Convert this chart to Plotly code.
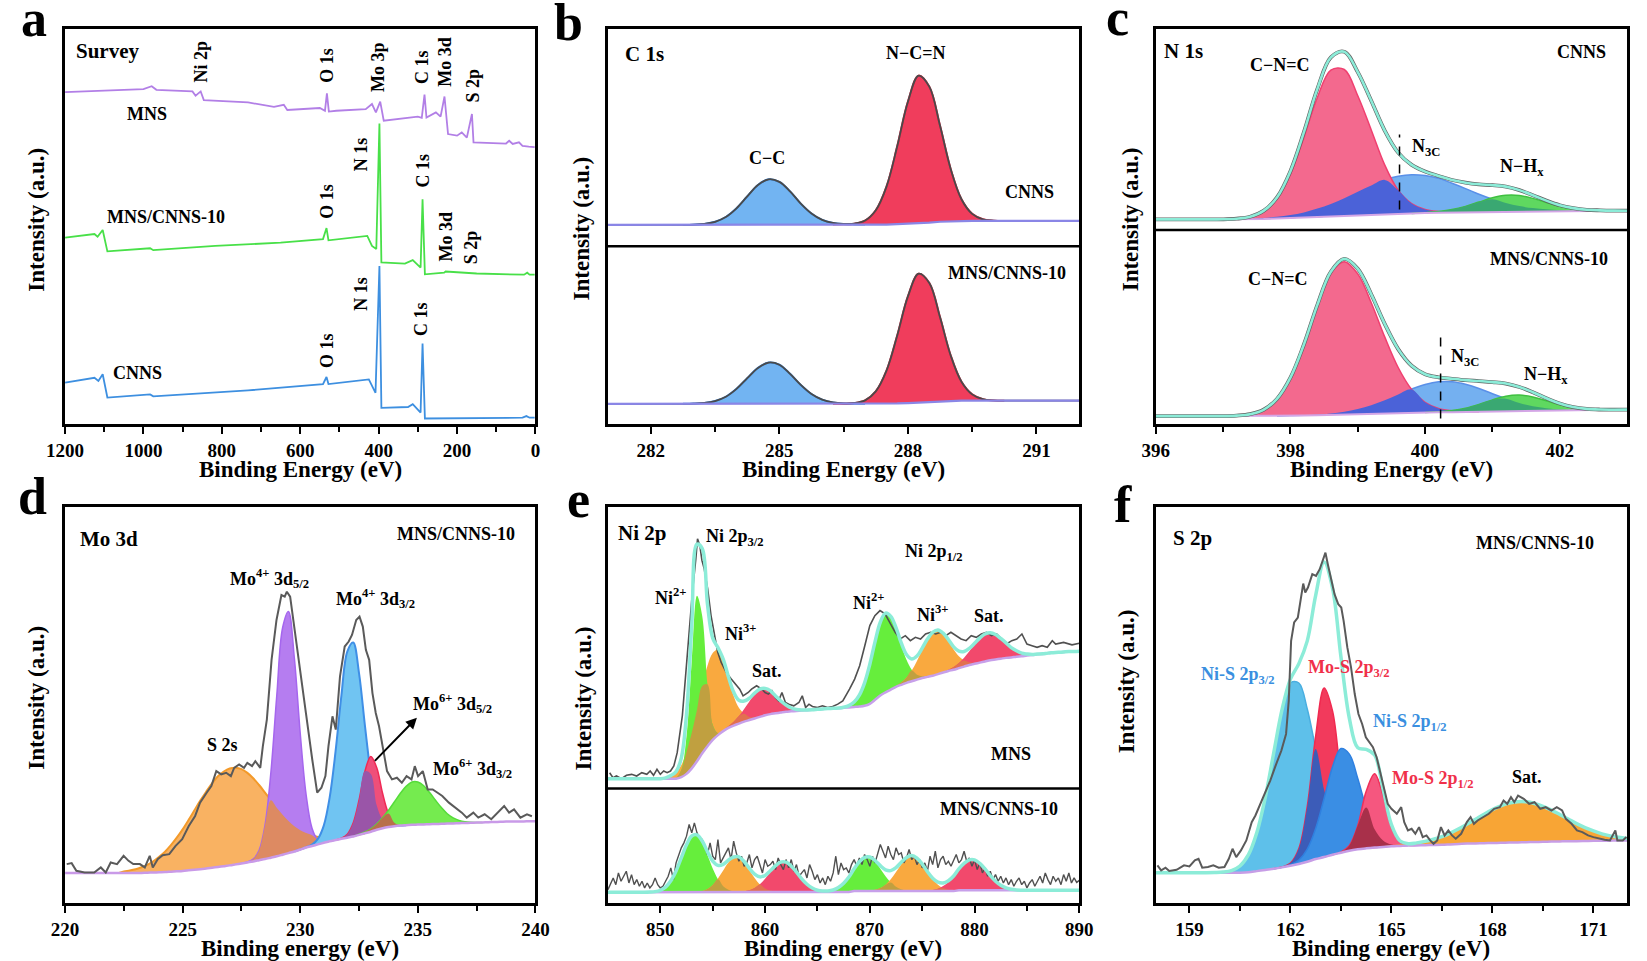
import numpy as np
import plotly.graph_objects as go

W, H = 1647, 961
FONT = "Liberation Serif"


def pad(start, vals, n):
    # peak heights above background, placed on the panel energy grid
    return [0.0] * start + list(vals) + [0.0] * (n - start - len(vals))


# ---------------- (a) survey ----------------
a_mns_x = [1200, 1000, 979, 967, 875, 867, 854, 846, 733, 712, 667, 642, 633, 550, 537, 532, 527, 508, 433, 417,
           407, 396, 387, 300, 290, 283, 278, 254, 242, 232, 223, 200, 188, 175, 162, 158, 75, 67, 58, 42, 33, 17, 2]
a_mns_y = [84.0, 84.8, 85.5, 84.6, 84.2, 83.1, 84.2, 82.0, 81.4, 81.0, 80.3, 80.8, 79.5, 80.0, 79.3, 83.7, 79.1,
           79.3, 79.7, 81.0, 78.9, 81.6, 76.8, 77.8, 77.5, 83.4, 77.6, 78.9, 77.8, 82.9, 73.4, 73.0, 73.8, 72.5,
           78.5, 71.3, 71.0, 71.7, 70.9, 71.3, 70.4, 70.2, 70.1]
a_mix_x = [1200, 1125, 1117, 1104, 1092, 983, 975, 817, 650, 542, 533, 528, 429, 417, 406, 398, 393, 333, 313,
           293, 288, 282, 233, 229, 150, 29, 21, 15, 2]
a_mix_y = [47.2, 48.1, 47.4, 49.1, 43.7, 44.5, 44.0, 45.1, 45.9, 46.8, 49.6, 46.5, 47.6, 45.1, 44.3, 76.1, 40.9,
           40.6, 41.5, 39.6, 56.9, 37.9, 38.3, 38.6, 38.1, 37.8, 38.3, 37.8, 37.8]
a_cn_x = [1200, 1125, 1115, 1104, 1092, 983, 975, 733, 542, 533, 528, 425, 408, 398, 393, 325, 313, 293, 288,
          282, 33, 23, 15, 2]
a_cn_y = [10.5, 11.7, 10.9, 12.6, 6.7, 7.5, 7.0, 8.5, 10.1, 11.9, 10.1, 11.3, 7.9, 40.0, 4.1, 4.3, 5.0, 2.9,
          20.4, 1.4, 1.6, 2.0, 1.6, 1.6]

# ---------------- (b) C 1s ----------------
b_x = np.arange(281, 292.01, 0.25)
b_base1 = [50.4] * 17 + [50.5] * 10 + [50.6, 50.7, 50.9, 51.0, 51.2, 51.3] + [51.4] * 12
b_cc1 = pad(8, [0.07, 0.26, 0.79, 2.0, 4.2, 7.2, 10.1, 11.55, 10.9, 8.4, 5.3, 2.8, 1.17, 0.4, 0.11, 0.03], 45)
b_ncn1 = pad(22, [0.04, 0.22, 1.0, 3.6, 9.6, 19.7, 30.9, 37.3, 34.4, 24.3, 13.2, 5.5, 1.8, 0.43, 0.08], 45)
b_base2 = [5.1] * 27 + [5.2, 5.3, 5.45, 5.6, 5.7, 5.8] + [5.9] * 12
b_cc2 = pad(8, [0.06, 0.24, 0.72, 1.8, 3.8, 6.5, 9.1, 10.45, 9.9, 7.6, 4.8, 2.5, 1.06, 0.36, 0.1, 0.03], 45)
b_ncn2 = pad(22, [0.03, 0.19, 0.88, 3.15, 8.4, 17.2, 27.0, 32.6, 30.1, 21.3, 11.5, 4.8, 1.6, 0.38, 0.07], 45)

# ---------------- (c) N 1s ----------------
c_x = np.arange(396, 403.01, 0.2)
c_base1 = [51.8] * 8 + [51.9, 52.0, 52.1, 52.2, 52.35, 52.5, 52.65, 52.8, 52.95, 53.1,
                        53.2, 53.3, 53.4, 53.5, 53.55, 53.6, 53.65, 53.7, 53.75, 53.8,
                        53.85, 53.9, 53.9, 53.95, 53.95, 54.0, 54.0, 54.0]
c_cnc1 = pad(6, [0.13, 0.54, 1.8, 4.9, 11.1, 20.3, 30.3, 37.1, 37.1, 30.3, 21.5, 12.5, 6.0, 2.5, 0.9, 0.3, 0.08], 36)
c_n3c1 = pad(4, [0.01, 0.02, 0.05, 0.12, 0.24, 0.45, 0.81, 1.37, 2.2, 3.2, 4.5, 6.0, 7.4, 8.7, 9.5, 9.8, 9.5, 8.7,
                 7.4, 6.0, 4.5, 3.2, 2.2, 1.37, 0.81, 0.45, 0.24, 0.12, 0.05, 0.02], 36)
c_nh1 = pad(20, [0.1, 0.3, 0.74, 1.5, 2.53, 3.56, 4.15, 4.04, 3.27, 2.2, 1.24, 0.58, 0.23, 0.07, 0.02], 36)
c_base2 = [2.0] * 9 + [2.05, 2.1, 2.15, 2.2, 2.3, 2.4, 2.5, 2.6, 2.7, 2.8, 2.85, 2.9, 2.95, 3.0, 3.05, 3.1,
                       3.15, 3.2, 3.25, 3.3, 3.35, 3.4, 3.45, 3.5, 3.55, 3.6, 3.65]
c_cnc2 = pad(6, [0.13, 0.49, 1.6, 4.3, 9.6, 17.9, 27.8, 35.9, 38.7, 35.5, 28.1, 19.35, 11.5, 5.9, 2.6, 1.0,
                 0.34, 0.1], 36)
c_n3c2 = pad(10, [0.03, 0.07, 0.16, 0.35, 0.7, 1.29, 2.15, 3.3, 4.66, 6.0, 7.1, 7.73, 7.7, 7.0, 5.9, 4.5, 3.2,
                  2.05, 1.2, 0.66, 0.33, 0.15, 0.06, 0.02], 36)
c_nh2 = pad(21, [0.14, 0.41, 0.96, 1.87, 2.96, 3.85, 4.08, 3.55, 2.52, 1.46, 0.7, 0.27, 0.09, 0.02], 36)

# ---------------- (d) Mo 3d ----------------
d_x = np.arange(220, 240.01, 0.25)
d_base = [7.55] * 13 + [7.6, 7.65, 7.7, 7.75, 7.8, 7.9, 8.0, 8.1, 8.25, 8.4,
                        8.55, 8.7, 8.9, 9.1, 9.3, 9.5, 9.75, 10.0, 10.25, 10.5,
                        10.8, 11.1, 11.45, 11.8, 12.2, 12.6, 13.0, 13.5, 14.0, 14.4,
                        14.8, 15.2, 15.6, 15.9, 16.2, 16.5, 16.8, 17.2, 17.6, 18.0,
                        18.5, 18.9, 19.2, 19.4, 19.55, 19.65, 19.75, 19.8, 19.85, 19.9,
                        19.95, 20.0, 20.05, 20.1, 20.15, 20.2, 20.25, 20.3, 20.35, 20.4,
                        20.45, 20.5, 20.55, 20.6, 20.6, 20.6, 20.65, 20.65]
d_s2s = pad(10, [0.42, 0.65, 0.97, 1.42, 2.0, 2.8, 3.9, 5.15, 6.7, 8.5, 10.5, 12.7, 15.0, 17.3, 19.4, 21.3,
                 22.9, 23.9, 24.45, 24.4, 23.8, 22.6, 21.0, 19.0, 16.8, 14.5, 12.25, 10.1, 8.1, 6.4, 4.9, 3.65,
                 2.7, 1.9, 1.3, 0.9, 0.6, 0.38, 0.24, 0.15, 0.09], 81)
d_mo4a = pad(30, [0.01, 0.1, 0.57, 2.5, 8.5, 21.4, 40.4, 57.3, 61.0, 48.8, 29.3, 13.3, 4.5, 1.14, 0.22, 0.03], 81)
d_mo4b = pad(40, [0.01, 0.07, 0.35, 1.4, 4.35, 11.0, 22.3, 36.2, 47.0, 49.0, 40.8, 27.2, 14.6, 6.2, 2.15, 0.59,
                  0.13, 0.02], 81)
d_mo6a = pad(47, [0.16, 0.88, 3.4, 8.8, 15.7, 19.0, 15.7, 8.8, 3.4, 0.88, 0.16], 81)
d_mo6b = pad(50, [0.15, 0.34, 0.74, 1.45, 2.6, 4.2, 6.1, 8.1, 9.8, 10.8, 10.75, 9.75, 8.0, 6.0, 4.1, 2.5, 1.4,
                  0.72, 0.33, 0.14, 0.05], 81)
d_raw_x = [220.07, 220.28, 220.48, 220.83, 221.24, 221.52, 221.73, 221.94, 222.21, 222.49, 222.70, 222.90,
           223.18, 223.39, 223.60, 223.73, 223.94, 224.15, 224.43, 224.70, 224.98, 225.26, 225.53, 225.74,
           226.02, 226.22, 226.43, 226.64, 226.85, 227.05, 227.19, 227.40, 227.61, 227.75, 227.95, 228.09,
           228.30, 228.41, 228.58, 228.78, 228.99, 229.20, 229.34, 229.43, 229.57, 229.75, 229.96, 230.24,
           230.51, 230.72, 230.90, 231.07, 231.20, 231.37, 231.51, 231.69, 231.89, 232.06, 232.20, 232.38,
           232.52, 232.66, 232.79, 232.93, 233.07, 233.21, 233.35, 233.53, 233.69, 233.90, 234.11, 234.32,
           234.52, 234.73, 234.87, 235.01, 235.21, 235.42, 235.63, 235.84, 236.04, 236.32, 236.60, 236.87,
           237.08, 237.36, 237.57, 237.84, 238.12, 238.40, 238.67, 238.88, 239.09, 239.36, 239.64, 239.85]
d_raw_y = [9.82, 10.07, 8.14, 7.72, 7.72, 8.98, 7.72, 10.23, 9.82, 11.91, 10.65, 9.82, 9.82, 8.98, 11.91, 8.98,
           11.07, 12.08, 12.33, 14.43, 16.11, 19.46, 21.98, 25.34, 27.85, 29.53, 33.31, 32.47, 32.89, 32.05,
           34.14, 34.98, 34.14, 35.40, 34.56, 35.82, 34.14, 39.60, 46.31, 61.41, 71.48, 77.77, 77.35, 78.61,
           77.35, 69.80, 59.73, 47.99, 36.24, 27.85, 29.11, 32.05, 39.60, 47.15, 43.79, 57.21, 64.77, 66.02,
           67.70, 71.48, 72.32, 69.80, 63.93, 61.41, 53.02, 47.99, 44.63, 38.76, 33.31, 31.21, 31.63, 30.37,
           32.05, 31.21, 34.56, 32.05, 33.31, 28.69, 28.69, 27.85, 27.01, 25.34, 24.08, 22.82, 21.56, 22.82,
           21.56, 22.40, 21.14, 22.82, 24.50, 22.82, 23.66, 21.56, 22.40, 21.90]

# ---------------- (e) Ni 2p ----------------
e_x = np.arange(845, 890.01, 0.5)
e_base1 = [31.4] * 14 + [31.8, 32.6, 34.0, 35.8, 37.8, 39.6, 41.2, 42.4, 43.4, 44.2,
                         44.8, 45.3, 45.8, 46.2, 46.6, 47.0, 47.4, 47.7, 47.9, 48.1,
                         48.3, 48.4, 48.5, 48.6, 48.7, 48.8, 48.9, 49.0, 49.1, 49.15,
                         49.2, 49.3, 49.4, 49.5, 49.6, 49.8, 50.3, 51.3, 52.4, 53.2,
                         53.9, 54.6, 55.1, 55.6, 56.0, 56.4, 56.8, 57.1, 57.4, 57.8,
                         58.2, 58.6, 58.9, 59.3, 59.7, 60.1, 60.4, 60.7, 61.0, 61.3,
                         61.5, 61.7, 61.9, 62.0, 62.2, 62.3, 62.5, 62.6, 62.8, 62.9,
                         63.1, 63.2, 63.3, 63.4, 63.5, 63.5, 63.6]
e_ni2a = pad(13, [0.19, 1.8, 9.5, 27.2, 41.8, 34.7, 15.6, 3.8, 0.5, 0.03], 91)
e_ni3a = pad(11, [0.2, 0.8, 1.6, 3.0, 5.5, 9.0, 13.0, 17.0, 20.3, 21.9, 21.6, 18.0, 12.5, 7.5, 4.0, 2.0, 0.8,
                  0.3, 0.1], 91)
e_sata = pad(22, [0.17, 0.44, 0.97, 1.9, 3.2, 4.7, 6.1, 6.9, 6.8, 5.9, 4.4, 2.9, 1.7, 0.84, 0.37, 0.14, 0.05], 91)
e_ni2b = pad(44, [0.04, 0.15, 0.46, 1.25, 2.9, 5.8, 10.0, 14.7, 18.5, 20.0, 18.5, 14.7, 10.0, 5.8, 2.9, 1.25,
                  0.46, 0.15, 0.04], 91)
e_ni3b = pad(55, [0.22, 0.58, 1.35, 2.7, 4.7, 7.1, 9.4, 10.9, 11.1, 9.8, 7.6, 5.1, 3.0, 1.56, 0.7, 0.28, 0.1,
                  0.03], 91)
e_satb = pad(63, [0.05, 0.14, 0.32, 0.68, 1.3, 2.25, 3.5, 4.9, 6.1, 6.9, 6.95, 6.3, 5.1, 3.8, 2.5, 1.5, 0.78,
                  0.37, 0.16, 0.06, 0.02], 91)
e_raw1_x = [845.16, 845.48, 845.81, 846.29, 846.77, 847.26, 847.74, 848.23, 848.71, 849.03, 849.35, 849.68,
            850.00, 850.32, 850.65, 850.97, 851.29, 851.61, 852.10, 852.42, 852.74, 853.06, 853.39, 853.55,
            853.77, 853.97, 854.19, 854.52, 854.84, 855.16, 855.48, 855.81, 856.29, 856.77, 857.26, 857.58,
            857.90, 858.39, 858.71, 859.19, 859.68, 860.00, 860.32, 860.65, 860.97, 861.29, 861.61, 861.94,
            862.26, 862.74, 863.23, 863.55, 863.87, 864.19, 864.52, 865.00, 865.48, 865.97, 866.45, 866.94,
            867.42, 867.74, 868.06, 868.55, 869.03, 869.52, 870.00, 870.48, 870.97, 871.45, 871.94, 872.42,
            872.90, 873.39, 873.87, 874.35, 874.84, 875.32, 875.81, 876.29, 876.77, 877.26, 877.74, 878.23,
            878.71, 879.19, 879.68, 880.16, 880.65, 881.13, 881.61, 882.10, 882.58, 883.06, 883.55, 884.03,
            884.52, 885.00, 885.48, 885.97, 886.45, 886.94, 887.42, 887.74, 888.50, 889.30, 890.00]
e_raw1_y = [32.91, 31.65, 32.07, 31.39, 32.24, 32.49, 32.07, 32.91, 32.49, 33.33, 32.24, 33.76, 32.49, 33.33,
            32.91, 33.33, 34.60, 37.97, 47.26, 58.23, 68.35, 78.48, 86.92, 91.98, 90.30, 86.50, 84.39, 79.32,
            72.57, 67.51, 63.29, 60.76, 58.23, 56.54, 54.85, 54.01, 52.32, 53.16, 54.01, 54.85, 54.01, 53.16,
            52.74, 53.59, 51.90, 51.05, 53.16, 50.63, 50.21, 49.79, 50.63, 52.32, 49.37, 50.21, 49.62, 49.37,
            49.79, 49.37, 49.62, 50.21, 51.05, 52.74, 54.01, 56.54, 59.92, 64.98, 70.04, 72.57, 73.84, 73.00,
            70.46, 68.35, 66.67, 67.51, 66.24, 67.09, 66.67, 67.93, 68.35, 67.93, 68.35, 67.51, 68.35, 67.51,
            66.67, 66.24, 67.51, 67.09, 67.93, 68.35, 67.51, 67.93, 66.67, 65.40, 66.24, 66.67, 67.93, 65.40,
            64.98, 64.56, 64.98, 64.56, 66.24, 65.40, 65.80, 65.20, 65.60]
e_base2 = [2.7] * 25 + [2.8] * 22 + [3.0] * 20 + [3.2] * 24
e_ni2c = pad(8, [0.05, 0.17, 0.51, 1.3, 2.9, 5.4, 8.7, 12.0, 14.2, 14.4, 12.6, 9.4, 6.0, 3.3, 1.55, 0.63, 0.21,
                 0.06], 91)
e_ni3c = pad(16, [0.03, 0.12, 0.34, 0.86, 1.87, 3.5, 5.5, 7.5, 8.7, 8.7, 7.5, 5.5, 3.5, 1.87, 0.86, 0.34, 0.12,
                  0.03], 91)
e_satc = pad(25, [0.06, 0.17, 0.43, 0.98, 1.93, 3.3, 5.0, 6.5, 7.5, 7.5, 6.5, 5.0, 3.3, 1.93, 0.98, 0.43, 0.17,
                  0.06], 91)
e_ni2d = pad(41, [0.07, 0.19, 0.49, 1.11, 2.18, 3.75, 5.65, 7.4, 8.5, 8.5, 7.4, 5.65, 3.75, 2.18, 1.11, 0.49,
                  0.19, 0.07], 91)
e_ni3d = pad(49, [0.04, 0.12, 0.32, 0.78, 1.64, 3.0, 4.8, 6.8, 8.3, 8.9, 8.3, 6.8, 4.8, 3.0, 1.64, 0.78, 0.32,
                  0.12, 0.04], 91)
e_satd = pad(60, [0.035, 0.1, 0.27, 0.62, 1.27, 2.3, 3.7, 5.4, 6.8, 7.7, 7.7, 6.8, 5.4, 3.7, 2.3, 1.27, 0.62,
                  0.27, 0.1, 0.035], 91)
# MNS/CNNS-10 raw counts, 0.25 eV step from 845 eV
e_raw2_y = [3.38, 5.06, 6.33, 4.64, 7.59, 5.49, 6.75, 8.02, 5.06, 7.17, 4.64, 5.91, 4.22, 5.49, 3.80, 5.06,
            3.80, 4.64, 6.33, 4.64, 3.80, 4.22, 5.49, 6.75, 8.86, 5.91, 10.13, 12.24, 13.92, 15.19, 16.88,
            19.83, 17.72, 20.25, 17.72, 16.46, 16.03, 14.35, 12.24, 15.19, 11.81, 10.97, 16.03, 10.13, 11.39,
            12.66, 13.92, 10.97, 15.61, 12.66, 10.55, 11.81, 9.28, 10.13, 12.24, 8.86, 10.97, 11.81, 9.70, 7.59,
            10.97, 9.28, 9.70, 10.55, 8.44, 11.39, 9.70, 8.44, 10.97, 8.86, 10.97, 8.02, 9.70, 6.75, 7.59, 8.44,
            6.33, 9.70, 8.02, 5.91, 7.17, 5.06, 6.33, 4.64, 6.75, 5.49, 7.59, 11.81, 7.17, 10.13, 8.44, 8.86,
            7.59, 9.70, 10.97, 9.28, 11.39, 9.70, 12.24, 10.97, 9.28, 11.81, 10.13, 12.66, 14.77, 13.08, 11.39,
            14.35, 12.24, 10.97, 13.92, 12.24, 12.66, 10.13, 11.39, 13.50, 10.97, 11.81, 9.70, 10.97, 8.86,
            10.13, 8.02, 11.81, 9.70, 13.08, 8.86, 10.97, 11.81, 9.70, 10.55, 9.28, 10.97, 12.24, 10.13, 10.97,
            13.08, 10.55, 11.39, 9.28, 10.97, 8.44, 10.13, 7.59, 8.86, 6.75, 8.02, 5.91, 7.17, 5.49, 6.75, 5.06,
            6.33, 4.64, 5.91, 4.22, 5.49, 6.33, 4.64, 5.49, 3.80, 5.06, 5.91, 4.22, 5.49, 6.75, 5.06, 7.59, 5.91,
            4.64, 6.75, 5.49, 6.33, 4.64, 7.17, 5.49, 7.59, 5.06, 6.33, 5.2, 5.7]
e_raw2_x = 845 + 0.25 * np.arange(len(e_raw2_y))

# ---------------- (f) S 2p ----------------
f_x = np.arange(158, 172.01, 0.25)
f_base = [7.65] * 11 + [7.75, 8.05, 8.35, 8.65, 9.0, 9.4, 9.85, 10.4, 11.1, 11.6,
                        12.2, 12.7, 13.2, 13.55, 13.8, 14.0, 14.15, 14.3, 14.4, 14.5,
                        14.55, 14.6, 14.65, 14.7, 14.8, 14.9, 15.0, 15.05, 15.1, 15.15,
                        15.2, 15.25, 15.3, 15.35, 15.4, 15.45, 15.5, 15.55, 15.6, 15.6,
                        15.65, 15.7, 15.7, 15.75, 15.8, 15.8]
f_nis32 = pad(7, [0.04, 0.15, 0.55, 1.7, 4.4, 9.7, 18.2, 29.1, 39.7, 46.2, 45.7, 38.6, 27.8, 17.0, 8.8, 3.9, 1.5,
                  0.48, 0.13, 0.03], 57)
f_mos32 = pad(15, [0.07, 0.67, 3.9, 14.0, 31.1, 42.7, 36.3, 19.1, 6.2, 1.26, 0.15, 0.01], 57)
f_nis12 = pad(15, [0.05, 0.26, 1.0, 3.2, 7.7, 14.8, 22.2, 26.3, 24.4, 17.9, 10.3, 4.65, 1.65, 0.46, 0.1], 57)
f_mos12 = pad(21, [0.01, 0.16, 1.35, 6.0, 14.4, 18.66, 13.05, 4.9, 1.0, 0.11, 0.01], 57)
f_sat = pad(28, [0.13, 0.23, 0.38, 0.62, 0.96, 1.44, 2.06, 2.86, 3.83, 4.93, 6.12, 7.32, 8.43, 9.35, 9.99, 10.28,
                 10.2, 9.74, 8.97, 7.96, 6.8, 5.6, 4.44, 3.39, 2.5, 1.77, 1.2, 0.79, 0.5], 57)
f_raw_x = [158.05, 158.16, 158.29, 158.40, 158.62, 158.84, 159.00, 159.16, 159.27, 159.38, 159.55, 159.71,
           159.87, 160.04, 160.17, 160.28, 160.39, 160.53, 160.69, 160.85, 160.96, 161.07, 161.24, 161.40,
           161.56, 161.73, 161.87, 161.95, 162.02, 162.11, 162.22, 162.33, 162.38, 162.44, 162.52, 162.65,
           162.76, 162.87, 162.96, 163.04, 163.11, 163.20, 163.31, 163.42, 163.51, 163.58, 163.69, 163.80,
           163.91, 164.02, 164.13, 164.24, 164.35, 164.45, 164.56, 164.67, 164.78, 164.89, 165.00, 165.16,
           165.29, 165.38, 165.49, 165.60, 165.71, 165.82, 165.93, 166.04, 166.15, 166.25, 166.36, 166.47,
           166.58, 166.69, 166.80, 166.91, 167.07, 167.24, 167.35, 167.45, 167.56, 167.73, 167.89, 168.05,
           168.22, 168.33, 168.44, 168.55, 168.65, 168.76, 168.93, 169.09, 169.25, 169.42, 169.58, 169.75,
           169.91, 170.07, 170.18, 170.35, 170.51, 170.67, 170.84, 171.00, 171.16, 171.33, 171.49, 171.65,
           171.71, 171.87, 171.98]
f_raw_y = [9.50, 8.24, 8.91, 8.07, 8.40, 9.50, 9.24, 10.76, 11.18, 8.91, 9.08, 9.50, 8.91, 9.08, 11.18, 13.70,
           11.60, 13.28, 15.80, 20.42, 22.10, 24.20, 27.56, 30.92, 34.71, 38.49, 42.69, 51.09, 66.22, 70.84,
           72.10, 77.98, 80.67, 78.40, 79.66, 83.03, 82.61, 84.29, 86.39, 88.49, 85.55, 82.18, 77.98, 75.46,
           74.62, 71.26, 64.54, 59.50, 52.77, 47.73, 45.21, 41.85, 40.59, 39.33, 36.81, 32.61, 28.40, 25.04,
           23.78, 22.52, 24.20, 20.42, 18.32, 18.74, 17.48, 19.16, 16.64, 17.06, 15.80, 14.96, 15.80, 19.16,
           17.06, 18.32, 17.06, 16.22, 17.48, 20.42, 21.68, 20.00, 20.84, 21.68, 22.52, 23.78, 24.20, 25.88,
           25.04, 26.72, 25.46, 27.14, 26.30, 25.04, 25.46, 23.78, 24.20, 23.36, 24.20, 23.36, 21.26, 20.00,
           18.32, 17.90, 17.06, 16.64, 16.22, 15.97, 15.80, 18.32, 15.80, 15.80, 16.64]

# ---------------- layout geometry (pixels) ----------------
FRAMES = {1: (47, 527, 29, 424), 2: (601, 1082, 29, 424), 3: (1160, 1641, 29, 424),
          4: (47, 527, 507, 903), 5: (601, 1082, 507, 903), 6: (1160, 1641, 507, 903)}
XR = {1: [1200, 0], 2: [281, 292], 3: [396, 403], 4: [220, 240], 5: [845, 890], 6: [158, 172]}
TICKS = {1: [0, 200, 400, 600, 800, 1000, 1200], 2: [282, 285, 288, 291], 3: [396, 398, 400, 402],
         4: [220, 225, 230, 235, 240], 5: [850, 860, 870, 880, 890], 6: [159, 162, 165, 168, 171]}
MINOR = {1: [100, 300, 500, 700, 900, 1100], 2: [283.5, 286.5, 289.5], 3: [397, 399, 401],
         4: [222.5, 227.5, 232.5, 237.5], 5: [855, 865, 875, 885], 6: [160.5, 163.5, 166.5, 169.5]}

fig = go.Figure()


def axes(n):
    return ("x", "y") if n == 1 else (f"x{n}", f"y{n}")


def peak(n, x, base, h, fill, line=None, lw=1.5):
    h = np.asarray(h, float)
    nz = np.nonzero(h > 0)[0]
    if len(nz) == 0:
        return
    lo, hi = max(nz[0] - 1, 0), min(nz[-1] + 2, len(h))
    xs = np.asarray(x)[lo:hi]
    b = np.asarray(base, float)[lo:hi]
    ax, ay = axes(n)
    fig.add_trace(go.Scatter(x=xs, y=b, xaxis=ax, yaxis=ay, mode="lines",
                             line=dict(width=0, shape="spline"), hoverinfo="skip"))
    fig.add_trace(go.Scatter(x=xs, y=b + h[lo:hi], xaxis=ax, yaxis=ay, mode="lines", fill="tonexty",
                             fillcolor=fill, line=dict(color=line or fill, width=lw if line else 0,
                                                       shape="spline"), hoverinfo="skip"))


def curve(n, x, y, color, width, shape="linear"):
    ax, ay = axes(n)
    fig.add_trace(go.Scatter(x=x, y=y, xaxis=ax, yaxis=ay, mode="lines",
                             line=dict(color=color, width=width, shape=shape), hoverinfo="skip"))


def note(n, x, y, text, size=18, xanchor="center", color="black", angle=0):
    ax, ay = axes(n)
    fig.add_annotation(x=x, y=y, xref=ax, yref=ay, text=text, showarrow=False, xanchor=xanchor,
                       yanchor="middle", textangle=angle,
                       font=dict(family=FONT, size=size, color=color, weight="bold"))


def paper_note(px, py, text, size, angle=0):
    fig.add_annotation(x=px / W, y=1 - py / H, xref="paper", yref="paper", text=text, showarrow=False,
                       xanchor="center", yanchor="middle", textangle=angle,
                       font=dict(family=FONT, size=size, color="black", weight="bold"))


def envelope(base, *hs):
    return np.asarray(base, float) + np.sum([np.asarray(h, float) for h in hs], axis=0)


CYAN = "#8cecd8"

# ---- (a) ----
curve(1, a_mns_x, a_mns_y, "#b27fe6", 1.8)
curve(1, a_mix_x, a_mix_y, "#48e048", 1.8)
curve(1, a_cn_x, a_cn_y, "#3d8fe0", 1.8)

# ---- (b) ----
for base, cc, ncn in [(b_base1, b_cc1, b_ncn1), (b_base2, b_cc2, b_ncn2)]:
    peak(2, b_x, base, cc, "#72b4f2", "#3a86dc", 2)
    peak(2, b_x, base, ncn, "#f03d5c", "#e52345", 2)
    curve(2, b_x, envelope(base, cc, ncn), "#4a4a4a", 1.8, "spline")
    curve(2, b_x, base, "#8a86e6", 2.2)

# ---- (c) ----
for base, cnc, n3c, nh in [(c_base1, c_cnc1, c_n3c1, c_nh1), (c_base2, c_cnc2, c_n3c2, c_nh2)]:
    peak(3, c_x, base, n3c, "#74b0f0", "#5a90e8", 1.5)
    peak(3, c_x, base, cnc, "#f3698e", "#f04070", 1.5)
    peak(3, c_x, base, np.minimum(cnc, n3c), "#4b62d8")
    peak(3, c_x, base, nh, "#5fd860", "#3fc040", 1.5)
    peak(3, c_x, base, np.minimum(nh, n3c), "#3aa872")
    curve(3, c_x, base, "#d4a6e6", 2)
    env = envelope(base, cnc, n3c, nh)
    curve(3, c_x, env, "#606060", 3.8, "spline")
    curve(3, c_x, env, CYAN, 2.6, "spline")

# ---- (d) ----
peak(4, d_x, d_base, d_s2s, "#f9b262", "#f39a2a", 2)
peak(4, d_x, d_base, d_mo4a, "#b57df0", "#a566ee", 1.5)
peak(4, d_x, d_base, np.minimum(d_s2s, d_mo4a), "#dd8a62")
peak(4, d_x, d_base, d_mo4b, "#70c4f2", "#3f8fe6", 2)
peak(4, d_x, d_base, d_mo6a, "#ef4f7a", "#f02a55", 1.5)
peak(4, d_x, d_base, np.minimum(d_mo4b, d_mo6a), "#9a55a8")
peak(4, d_x, d_base, d_mo6b, "#75eb4f", "#55dc3a", 1.5)
peak(4, d_x, d_base, np.minimum(d_mo6a, d_mo6b), "#b8704a")
curve(4, d_x, d_base, "#c99ae8", 2.5, "spline")
curve(4, d_raw_x, d_raw_y, "#5a5a5a", 2)

# ---- (e) ----
peak(5, e_x, e_base1, e_ni3a, "#f9a93f")
peak(5, e_x, e_base1, e_ni2a, "#66ee3c")
peak(5, e_x, e_base1, np.minimum(e_ni2a, e_ni3a), "#c0a040")
peak(5, e_x, e_base1, e_sata, "#f2496c")
peak(5, e_x, e_base1, np.minimum(e_ni3a, e_sata), "#e27050")
peak(5, e_x, e_base1, e_ni2b, "#66ee3c")
peak(5, e_x, e_base1, e_ni3b, "#f9a93f")
peak(5, e_x, e_base1, np.minimum(e_ni2b, e_ni3b), "#c0a040")
peak(5, e_x, e_base1, e_satb, "#f2496c")
peak(5, e_x, e_base1, np.minimum(e_ni3b, e_satb), "#e27050")
curve(5, e_x, e_base1, "#c7a0ea", 2.5, "spline")
curve(5, e_raw1_x, e_raw1_y, "#505050", 1.6)
curve(5, e_x, envelope(e_base1, e_ni2a, e_ni3a, e_sata, e_ni2b, e_ni3b, e_satb), CYAN, 3.5, "spline")

for h, col in [(e_ni2c, "#66ee3c"), (e_ni3c, "#f9a93f"), (e_satc, "#f2496c"),
               (e_ni2d, "#66ee3c"), (e_ni3d, "#f9a93f"), (e_satd, "#f2496c")]:
    peak(5, e_x, e_base2, h, col)
for h1, h2, col in [(e_ni2c, e_ni3c, "#c0a040"), (e_ni3c, e_satc, "#e27050"), (e_satc, e_ni2d, "#c08a50"),
                    (e_ni2d, e_ni3d, "#c0a040"), (e_ni3d, e_satd, "#e27050")]:
    peak(5, e_x, e_base2, np.minimum(h1, h2), col)
curve(5, e_x, e_base2, "#c7a0ea", 2.5)
curve(5, e_raw2_x, e_raw2_y, "#505050", 1.4)
curve(5, e_x, envelope(e_base2, e_ni2c, e_ni3c, e_satc, e_ni2d, e_ni3d, e_satd), CYAN, 3.5, "spline")

# ---- (f) ----
peak(6, f_x, f_base, f_nis32, "#5ec0ea", "#4aaee0", 1.5)
peak(6, f_x, f_base, f_mos32, "#f23a5c", "#f02a50", 1.5)
peak(6, f_x, f_base, np.minimum(f_nis32, f_mos32), "#3c5cb8")
peak(6, f_x, f_base, f_nis12, "#3a8ee4", "#2f80e0", 1.5)
peak(6, f_x, f_base, f_mos12, "#f5577f", "#f0305a", 1.5)
peak(6, f_x, f_base, np.minimum(f_nis12, f_mos12), "#a8304a")
peak(6, f_x, f_base, f_sat, "#f8a535", "#f59a25", 1.5)
curve(6, f_x, f_base, "#c79de6", 2.5, "spline")
curve(6, f_x, envelope(f_base, f_nis32, f_mos32, f_nis12, f_mos12, f_sat), CYAN, 3.5, "spline")
curve(6, f_raw_x, f_raw_y, "#5a5a5a", 2)

# ---------------- text ----------------
note(1, 1177, 94.5, "Survey", 21, "left")
for x, y, s in [(854, 91.7, "Ni 2p"), (532, 90.9, "O 1s"), (400, 90.3, "Mo 3p"), (287.5, 90.3, "C 1s"),
                (229, 91.6, "Mo 3d"), (160, 85.6, "S 2p"), (446, 68.2, "N 1s"), (287.5, 64.1, "C 1s"),
                (532, 56.5, "O 1s"), (229, 47.4, "Mo 3d"), (162.5, 44.7, "S 2p"), (446, 32.9, "N 1s"),
                (290, 26.5, "C 1s"), (532, 18.7, "O 1s")]:
    note(1, x, y, s, 18, angle=-90)
note(1, 992, 78.6, "MNS")
note(1, 942, 52.4, "MNS/CNNS-10")
note(1, 1015, 13.0, "CNNS")

note(2, 281.35, 93.7, "C 1s", 21, "left")
note(2, 288.2, 93.9, "N\u2212C=N")
note(2, 284.7, 67.3, "C\u2212C")
note(2, 291.45, 58.8, "CNNS", xanchor="right")
note(2, 291.73, 38.2, "MNS/CNNS-10", xanchor="right")

note(3, 396.1, 94.5, "N 1s", 21, "left")
note(3, 402.72, 94.1, "CNNS", xanchor="right")
note(3, 397.85, 90.9, "C\u2212N=C")
note(3, 399.77, 70.0, "N<sub>3C</sub>", xanchor="left")
note(3, 401.44, 64.9, "N\u2212H<sub>x</sub>")
note(3, 402.74, 41.8, "MNS/CNNS-10", xanchor="right")
note(3, 397.82, 36.7, "C\u2212N=C")
note(3, 400.36, 16.9, "N<sub>3C</sub>", xanchor="left")
note(3, 401.79, 12.4, "N\u2212H<sub>x</sub>")
for xv, y0, y1 in [(399.62, 54.3, 73.3), (400.23, 1.4, 22.0)]:
    fig.add_shape(type="line", xref="x3", yref="y3", x0=xv, x1=xv, y0=y0, y1=y1,
                  line=dict(color="black", width=1.5, dash="dash"))

note(4, 220.53, 92.0, "Mo 3d", 21, "left")
note(4, 239.2, 93.3, "MNS/CNNS-10", xanchor="right")
note(4, 228.69, 82.0, "Mo<sup>4+</sup> 3d<sub>5/2</sub>")
note(4, 233.2, 76.9, "Mo<sup>4+</sup> 3d<sub>3/2</sub>")
note(4, 226.7, 39.8, "S 2s")
note(4, 234.73, 50.5, "Mo<sup>6+</sup> 3d<sub>5/2</sub>", xanchor="left")
note(4, 235.56, 33.9, "Mo<sup>6+</sup> 3d<sub>3/2</sub>", xanchor="left")
fig.add_annotation(x=234.96, y=46.8, ax=233.11, ay=35.5, xref="x4", yref="y4", axref="x4", ayref="y4",
                   text="", showarrow=True, arrowhead=2, arrowsize=1.1, arrowwidth=2, arrowcolor="black")

note(5, 845.8, 93.5, "Ni 2p", 21, "left")
note(5, 854.2, 92.4, "Ni 2p<sub>3/2</sub>", xanchor="left")
note(5, 873.2, 88.6, "Ni 2p<sub>1/2</sub>", xanchor="left")
note(5, 851.0, 77.5, "Ni<sup>2+</sup>")
note(5, 857.7, 68.2, "Ni<sup>3+</sup>")
note(5, 860.2, 58.6, "Sat.")
note(5, 869.9, 76.1, "Ni<sup>2+</sup>")
note(5, 876.0, 73.2, "Ni<sup>3+</sup>")
note(5, 881.4, 72.6, "Sat.")
note(5, 883.5, 37.6, "MNS")
note(5, 888.2, 23.8, "MNS/CNNS-10", xanchor="right")

note(6, 158.45, 92.1, "S 2p", 21, "left")
note(6, 171.08, 90.8, "MNS/CNNS-10", xanchor="right")
note(6, 161.6, 57.4, "Ni-S 2p<sub>3/2</sub>", xanchor="right", color="#3a8fe0")
note(6, 162.46, 59.1, "Mo-S 2p<sub>3/2</sub>", xanchor="left", color="#f0304a")
note(6, 164.38, 45.6, "Ni-S 2p<sub>1/2</sub>", xanchor="left", color="#3a8fe0")
note(6, 164.95, 31.3, "Mo-S 2p<sub>1/2</sub>", xanchor="left", color="#f0304a")
note(6, 169.04, 31.9, "Sat.")

# dividers between stacked spectra
for n, yv in [(2, 45.0), (3, 49.1), (5, 28.9)]:
    fig.add_shape(type="line", xref=f"x{n} domain", yref=f"y{n}", x0=0, x1=1, y0=yv, y1=yv,
                  line=dict(color="black", width=2.5))

# panel letters, axis titles
for px, py, s in [(15, 18, "a"), (561, 22, "b"), (1121, 17, "c"), (14, 496, "d"), (571, 499, "e"),
                  (1127, 505, "f")]:
    paper_note(px, py, s, 52)
for px, py in [(17, 220), (575, 228), (1134, 219), (17, 698), (576, 698), (1130, 681)]:
    paper_note(px, py, "Intensity (a.u.)", 23, angle=-90)
for px, py, s in [(287, 469, "Binding Energy (eV)"), (841, 469, "Binding Energy (eV)"),
                  (1401, 469, "Binding Energy (eV)"), (287, 948, "Binding energy (eV)"),
                  (841, 948, "Binding energy (eV)"), (1400, 948, "Binding energy (eV)")]:
    paper_note(px, py, s, 23)

layout = dict(width=W, height=H, margin=dict(l=0, r=0, t=0, b=0), paper_bgcolor="white",
              plot_bgcolor="white", showlegend=False)
for n, (l, r, t, b) in FRAMES.items():
    sx = "" if n == 1 else str(n)
    layout[f"xaxis{sx}"] = dict(domain=[l / W, r / W], range=XR[n], anchor=f"y{sx}", showline=True,
                                mirror=True, linecolor="black", linewidth=2.5, ticks="outside", ticklen=7,
                                tickwidth=2, tickcolor="black", tickvals=TICKS[n], showgrid=False,
                                zeroline=False,
                                tickfont=dict(family=FONT, size=19, color="black", weight="bold"),
                                minor=dict(tickmode="array", tickvals=MINOR[n], ticks="outside", ticklen=5,
                                           tickwidth=2, tickcolor="black", showgrid=False))
    layout[f"yaxis{sx}"] = dict(domain=[1 - b / H, 1 - t / H], range=[0, 100], anchor=f"x{sx}",
                                showline=True, mirror=True, linecolor="black", linewidth=2.5,
                                showticklabels=False, ticks="", showgrid=False, zeroline=False)
fig.update_layout(**layout)

# the page body has a default 8px margin; remove it so the figure sits at the window origin
fig.write_html("out.html", post_script="document.body.style.margin = '0px';",
               config={"displayModeBar": False})
